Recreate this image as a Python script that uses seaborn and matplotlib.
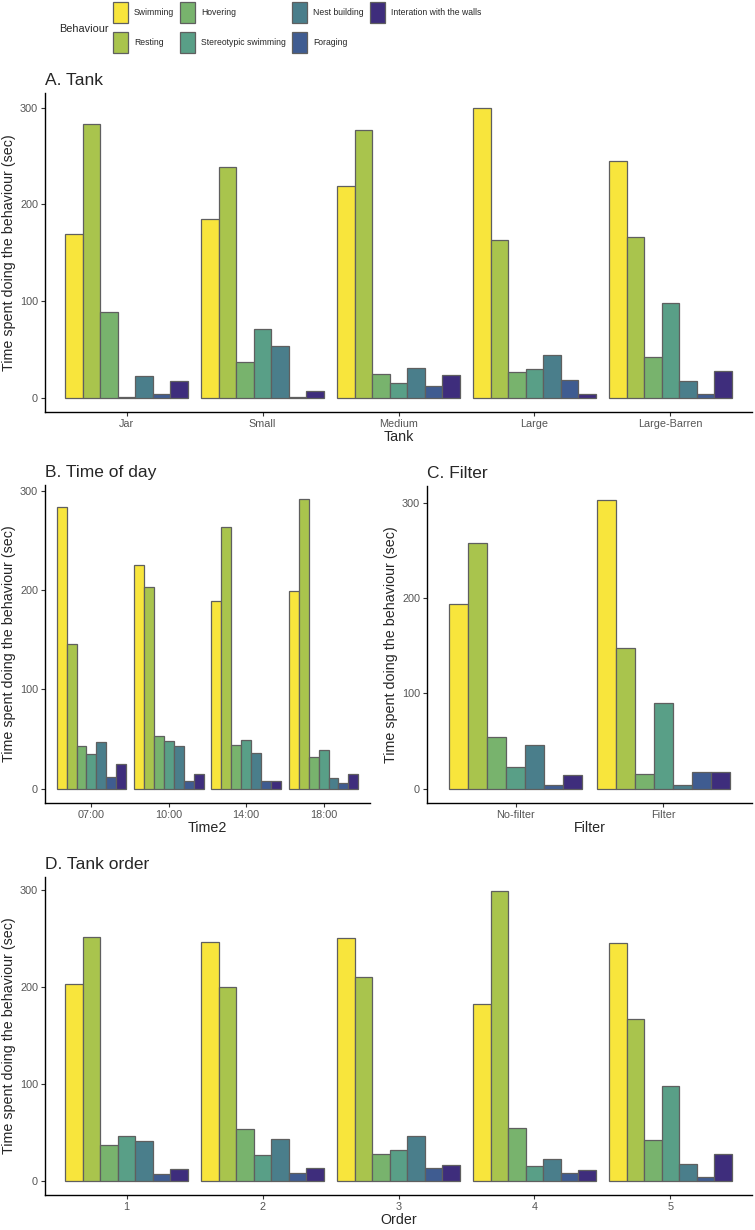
import matplotlib
matplotlib.use('Agg')
import matplotlib.pyplot as plt
import seaborn as sns
import pandas as pd
from matplotlib.patches import Patch

# behaviours and their fill colours
behaviours = ['Swimming', 'Resting', 'Hovering', 'Stereotypic swimming',
              'Nest building', 'Foraging', 'Interation with the walls']
behaviour_colors = ['#F8E53C', '#A9C44D', '#78B36D', '#599F87',
                    '#4A7E8B', '#3F5C91', '#3E2D7C']

# A. Tank (one row per tank, values in behaviour order)
tanks = ['Jar', 'Small', 'Medium', 'Large', 'Large-Barren']
tank_values = [
    [169, 283, 88, 1, 22, 3.5, 17],
    [185, 238, 37, 71, 53.5, 1, 7],
    [219, 277, 24, 14.5, 31, 12, 23],
    [300, 163, 26, 29, 44, 18, 3.5],
    [245, 166, 42, 98, 17, 4, 27.5],
]

# B. Time of day
times = ['07:00', '10:00', '14:00', '18:00']
time_values = [
    [283, 146, 43, 35, 46.5, 12, 25],
    [225.5, 203, 53, 48, 42.5, 7.5, 14.5],
    [189, 263.5, 44, 48.5, 36, 7.5, 7.5],
    [199, 291, 32, 39, 11, 5.5, 14.5],
]

# C. Filter
filters = ['No-filter', 'Filter']
filter_values = [
    [194, 258, 54, 23, 46, 4, 14],
    [303, 148, 15, 90, 3.5, 17.5, 17.5],
]

# D. Tank order
orders = ['1', '2', '3', '4', '5']
order_values = [
    [203, 251, 37, 45.5, 40.5, 7, 11.5],
    [246.5, 199.5, 53, 26, 43, 8, 12.5],
    [250, 210, 27, 31.5, 45.5, 12.5, 16],
    [182, 298.5, 54.5, 15, 22.5, 8, 10.5],
    [245.5, 167, 42, 98, 17, 3.5, 27.5],
]

sns.set_theme(style='ticks')
plt.rcParams['font.family'] = ['Liberation Sans', 'DejaVu Sans']

EDGE = '#5f5f5f'
YLABEL = 'Time spent doing the behaviour (sec)'


def long_df(cats, values):
    rows = []
    for cat, vals in zip(cats, values):
        for b, v in zip(behaviours, vals):
            rows.append({'group': cat, 'Behaviour': b, 'time': v})
    return pd.DataFrame(rows)


def panel(ax, cats, values, title, xlabel):
    df = long_df(cats, values)
    sns.barplot(data=df, x='group', y='time', hue='Behaviour',
                order=cats, hue_order=behaviours, palette=behaviour_colors,
                width=0.9, gap=0, saturation=1, errorbar=None, legend=False,
                edgecolor=EDGE, linewidth=0.9, ax=ax)
    top = max(max(v) for v in values)
    ax.set_ylim(-0.05 * top, 1.05 * top)
    ax.set_xlim(-0.6, len(cats) - 0.4)
    ax.set_yticks([0, 100, 200, 300])
    sns.despine(ax=ax)
    for s in ['left', 'bottom']:
        ax.spines[s].set_color('black')
        ax.spines[s].set_linewidth(1.0)
    ax.tick_params(axis='both', length=3, width=0.8, color='#333333',
                   labelsize=7.8, labelcolor='#555555', pad=2)
    ax.set_xlabel(xlabel, fontsize=10.3, labelpad=1)
    ax.set_ylabel(YLABEL, fontsize=10.3, labelpad=3)
    ax.set_title(title, loc='left', fontsize=12.5, pad=6)


W, H = 755, 1230
fig = plt.figure(figsize=(W / 100, H / 100), dpi=100)

ax_a = fig.add_axes([45 / W, 1 - 412 / H, 707 / W, 319 / H])
ax_b = fig.add_axes([45 / W, 1 - 803 / H, 325 / W, 318 / H])
ax_c = fig.add_axes([427 / W, 1 - 803 / H, 325 / W, 317 / H])
ax_d = fig.add_axes([45 / W, 1 - 1195 / H, 707 / W, 318 / H])

panel(ax_a, tanks, tank_values, 'A. Tank', 'Tank')
panel(ax_b, times, time_values, 'B. Time of day', 'Time2')
panel(ax_c, filters, filter_values, 'C. Filter', 'Filter')
panel(ax_d, orders, order_values, 'D. Tank order', 'Order')

# legend on top, title on the left like ggplot
legend_fs = 6.2
px = legend_fs * 100 / 72
handles = [Patch(facecolor=c, edgecolor=EDGE, linewidth=0.9) for c in behaviour_colors]
fig.legend(handles, behaviours, ncol=4, loc='upper left',
           bbox_to_anchor=(113 / W, 1 - 2.5 / H), frameon=False,
           fontsize=legend_fs, borderpad=0, borderaxespad=0,
           handlelength=15 / px, handleheight=20.6 * 1.37 / px,
           labelspacing=9.4 / px, handletextpad=6 / px, columnspacing=6 / px)
fig.text(59 / W, 1 - 29 / H, 'Behaviour', fontsize=7.8, va='center', ha='left')

fig.savefig('out.png', dpi=100)
